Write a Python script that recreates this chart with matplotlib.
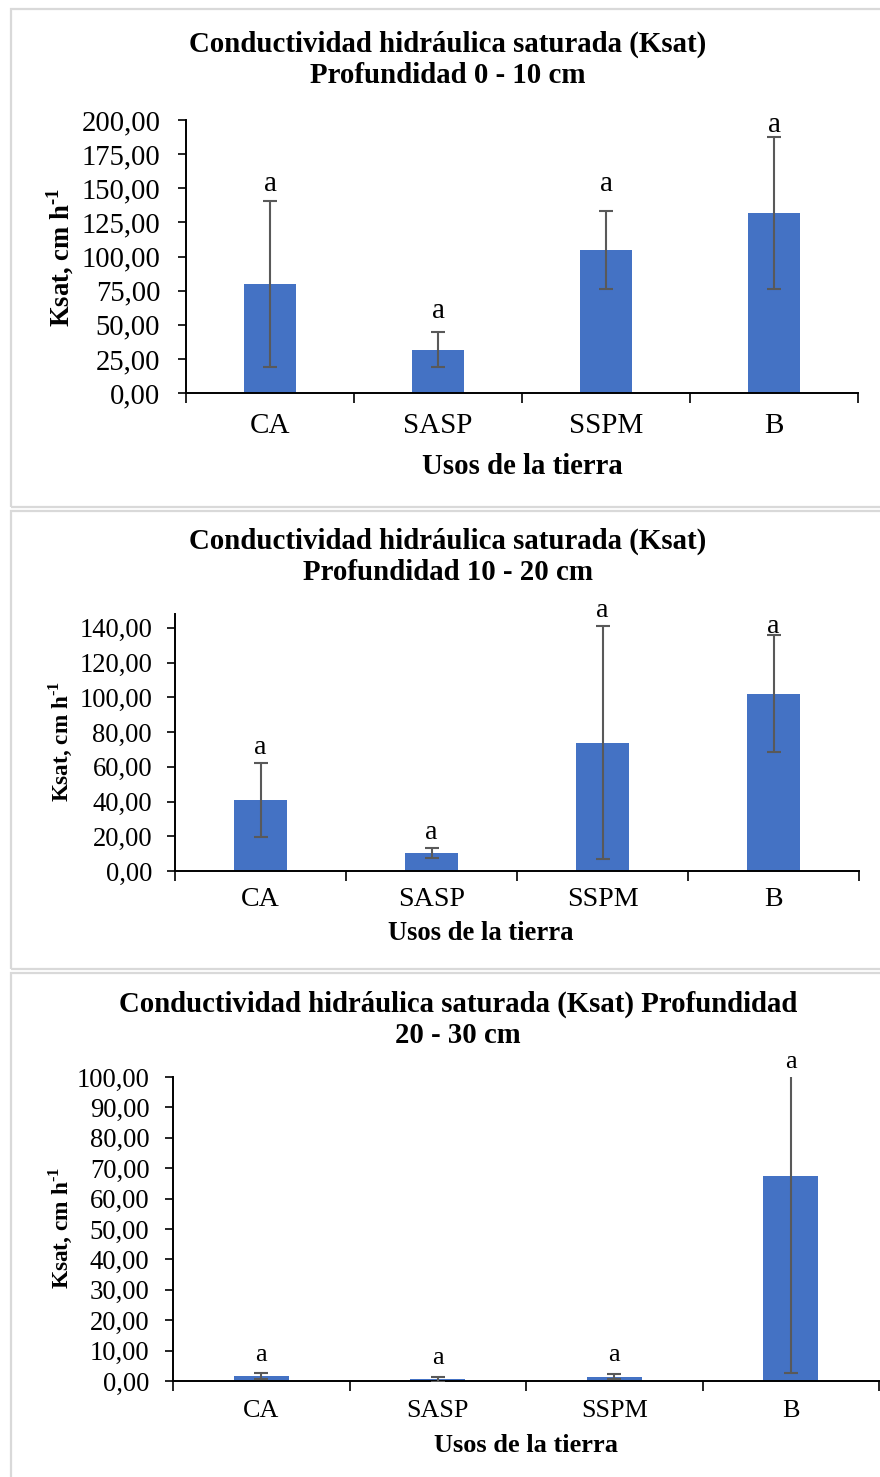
import matplotlib
matplotlib.use("Agg")
import matplotlib.pyplot as plt
from matplotlib.patches import Rectangle
from matplotlib.ticker import FuncFormatter, FixedLocator

# Datos (Ksat, cm h-1)
usos = ["CA", "SASP", "SSPM", "B"]
ksat_0_10 = [80.0, 31.8, 104.5, 132.0]
err_0_10 = [61.0, 12.8, 28.5, 55.5]
ksat_10_20 = [40.9, 10.3, 74.0, 102.2]
err_10_20 = [21.3, 2.9, 67.0, 33.8]
ksat_20_30 = [1.6, 0.6, 1.4, 67.5]
err_20_30 = [1.1, 0.8, 0.8, 65.0]
letras = ["a", "a", "a", "a"]
# altura (en unidades del eje) a la que están escritas las letras
y_letras_0_10 = [153, 60, 153, 196]
y_letras_10_20 = [71, 22, 150, 141]
y_letras_20_30 = [8.6, 7.6, 8.6, 105]

titulos = [
    "Conductividad hidráulica saturada (Ksat)\nProfundidad 0 - 10 cm",
    "Conductividad hidráulica saturada (Ksat)\nProfundidad 10 - 20 cm",
    "Conductividad hidráulica saturada (Ksat) Profundidad\n20 - 30 cm",
]

W, H = 880, 1477
BAR_COLOR = "#4472C4"
ERR_COLOR = "#595959"
BORDER = "#d9d9d9"

plt.rcParams["font.family"] = ["Liberation Serif", "DejaVu Serif"]
plt.rcParams["mathtext.fontset"] = "custom"
plt.rcParams["mathtext.rm"] = "Liberation Serif"
plt.rcParams["mathtext.bf"] = "Liberation Serif:bold"

fig = plt.figure(figsize=(W / 100, H / 100), dpi=100)


def fx(px):
    return px / W


def fy(py):
    return 1 - py / H


# cajas grises de cada panel
for top, bottom in [(9, 507), (511, 969), (973, 1490)]:
    fig.patches.append(Rectangle((fx(11), fy(bottom)), fx(900) - fx(11), fy(top) - fy(bottom),
                                 transform=fig.transFigure, fill=False,
                                 edgecolor=BORDER, lw=1.6))

coma = FuncFormatter(lambda v, _: f"{v:.2f}".replace(".", ","))

# rect en px: (izq, der, y del cero, y del máximo)
paneles = [
    dict(vals=ksat_0_10, errs=err_0_10, ylet=y_letras_0_10, rect=(186, 858, 393, 120),
         ymax=200, step=25, pad=12.5,
         fs_tick=20.6, fs_cat=21, fs_lab=20.7, fs_ylab=19.2, fs_title=20.8,
         title_xy=(448, 60), cat_y=426, xlab_xy=(522, 466), ylab_xy=(60, 258)),
    dict(vals=ksat_10_20, errs=err_10_20, ylet=y_letras_10_20, rect=(175, 859, 871, 614),
         ymax=148, step=20, pad=10.5,
         fs_tick=19.2, fs_cat=20.2, fs_lab=19.2, fs_ylab=16.7, fs_title=20.8,
         title_xy=(448, 557), cat_y=899, xlab_xy=(481, 933), ylab_xy=(60, 742)),
    dict(vals=ksat_20_30, errs=err_20_30, ylet=y_letras_20_30, rect=(173, 879, 1381, 1077),
         ymax=100, step=10, pad=11,
         fs_tick=19.2, fs_cat=18.8, fs_lab=19, fs_ylab=16.8, fs_title=20.7,
         title_xy=(458, 1020), cat_y=1411, xlab_xy=(526, 1445), ylab_xy=(60, 1228)),
]

for p, titulo in zip(paneles, titulos):
    left, right, y0, ytop = p["rect"]
    ax = fig.add_axes([fx(left), fy(y0), fx(right) - fx(left), fy(ytop) - fy(y0)])
    x = [i + 0.5 for i in range(len(usos))]
    ax.bar(x, p["vals"], width=0.31, color=BAR_COLOR, zorder=2)
    ax.errorbar(x, p["vals"], yerr=p["errs"], fmt="none", ecolor=ERR_COLOR,
                elinewidth=1.5, capsize=5, capthick=1.5, zorder=3)
    ax.set_xlim(0, len(usos))
    ax.set_ylim(0, p["ymax"])

    # letras de significancia
    for xi, yl, l in zip(x, p["ylet"], letras):
        ax.text(xi, yl, l, ha="center", va="center", fontsize=p["fs_cat"], clip_on=False)

    # ejes al estilo Excel
    for s in ["top", "right"]:
        ax.spines[s].set_visible(False)
    for s in ["left", "bottom"]:
        ax.spines[s].set_linewidth(1.4)
    ax.yaxis.set_major_locator(FixedLocator(list(range(0, int(p["ymax"]) + 1, p["step"]))))
    ax.yaxis.set_major_formatter(coma)
    ax.tick_params(axis="y", direction="out", length=6, width=1.2,
                   labelsize=p["fs_tick"], pad=p["pad"])
    ax.set_xticks(range(len(usos) + 1))
    ax.set_xticklabels([""] * (len(usos) + 1))
    ax.tick_params(axis="x", direction="out", length=7, width=1.2)

    for xi, u in zip(x, usos):
        px = left + (right - left) * xi / len(usos)
        fig.text(fx(px), fy(p["cat_y"]), u, ha="center", va="center", fontsize=p["fs_cat"])

    fig.text(fx(p["title_xy"][0]), fy(p["title_xy"][1]), titulo, ha="center", va="center",
             fontsize=p["fs_title"], fontweight="bold", linespacing=1.22)
    fig.text(fx(p["xlab_xy"][0]), fy(p["xlab_xy"][1]), "Usos de la tierra", ha="center",
             va="center", fontsize=p["fs_lab"], fontweight="bold")
    fig.text(fx(p["ylab_xy"][0]), fy(p["ylab_xy"][1]), "Ksat, cm h$^{\\mathbf{\u2010}\\mathbf{1}}$",
             ha="center", va="center", rotation=90, fontsize=p["fs_ylab"], fontweight="bold")

fig.savefig("out.png", dpi=100, facecolor="white")
